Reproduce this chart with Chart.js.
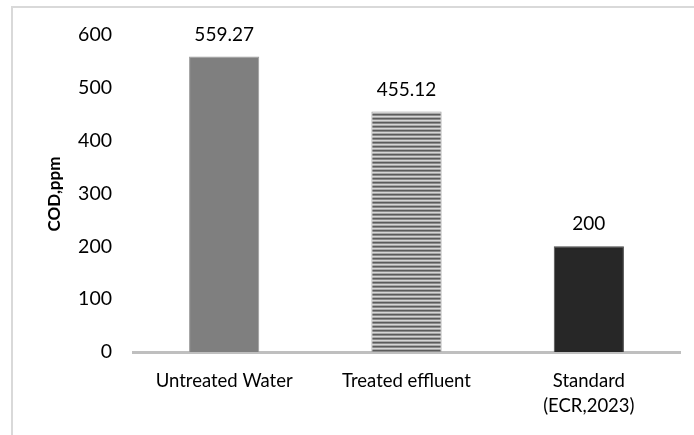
<!DOCTYPE html>
<html>
<head>
<meta charset="utf-8">
<script src="https://cdn.jsdelivr.net/npm/chart.js@4/dist/chart.umd.min.js"></script>
<style>
  html, body { margin: 0; padding: 0; background: #ffffff; }
  #wrap { width: 694px; height: 435px; position: relative; }
</style>
</head>
<body>
<div id="wrap"><canvas id="c" width="694" height="435"></canvas></div>
<script>
// COD levels for each water sample
const categories = ["Untreated Water", "Treated effluent", ["Standard", "(ECR,2023)"]];
const codValues = [559.27, 455.12, 200];
const valueLabels = ["559.27", "455.12", "200"];
const yTicks = [0, 100, 200, 300, 400, 500, 600];
const yTitle = "COD,ppm";

const FONT = "Lato, 'Liberation Sans', sans-serif";

// fill styles: plain grey, horizontal stripes, near-black
function stripePattern() {
  const p = document.createElement('canvas');
  p.width = 4; p.height = 4;
  const g = p.getContext('2d');
  const rows = ['#d6d6d6', '#a8a8a8', '#5c5c5c', '#8c8c8c'];
  rows.forEach((c, i) => { g.fillStyle = c; g.fillRect(0, i, 4, 1); });
  return g.createPattern(p, 'repeat');
}
const ctx = document.getElementById('c').getContext('2d');
const fills = ['#7f7f7f', stripePattern(), '#272727'];
const edges = ['#9a9a9a', '#9a9a9a', '#4a4a4a'];

// frame around the figure, rotated axis title and value labels
const decorations = {
  id: 'decorations',
  beforeDraw(chart) {
    const c = chart.ctx;
    c.save();
    c.strokeStyle = '#d9d9d9';
    c.lineWidth = 2;
    c.beginPath();
    c.moveTo(12, 435);
    c.lineTo(12, 7);
    c.lineTo(694, 7);
    c.stroke();
    c.restore();
  },
  afterDraw(chart) {
    const c = chart.ctx;
    c.save();
    c.fillStyle = '#000000';
    c.font = 'bold 17px ' + FONT;
    c.textAlign = 'center';
    c.textBaseline = 'middle';
    c.translate(55, 194);
    c.rotate(-Math.PI / 2);
    c.fillText(yTitle, 0, 0);
    c.restore();

    c.save();
    c.fillStyle = '#000000';
    c.font = '19px ' + FONT;
    c.textAlign = 'center';
    c.textBaseline = 'alphabetic';
    const meta = chart.getDatasetMeta(0);
    meta.data.forEach((bar, i) => {
      c.fillText(valueLabels[i], bar.x, bar.y - 16);
    });
    c.restore();
  }
};

new Chart(ctx, {
  type: 'bar',
  data: {
    labels: categories,
    datasets: [{
      data: codValues,
      backgroundColor: fills,
      borderColor: edges,
      borderWidth: 1,
      categoryPercentage: 1,
      barPercentage: 0.385
    }]
  },
  options: {
    responsive: false,
    animation: false,
    layout: { padding: { top: 35, right: 14, left: 0, bottom: 0 } },
    plugins: { legend: { display: false }, tooltip: { enabled: false } },
    scales: {
      x: {
        grid: { display: false, drawTicks: false },
        border: { display: true, color: '#bfbfbf', width: 3 },
        ticks: {
          color: '#000000',
          font: { family: FONT, size: 18.5, lineHeight: 1.35 },
          padding: 17,
          maxRotation: 0,
          autoSkip: false
        },
        afterFit(scale) { scale.height = 83; }
      },
      y: {
        min: 0,
        max: 600,
        afterBuildTicks(scale) { scale.ticks = yTicks.map(v => ({ value: v })); },
        grid: { display: false, drawTicks: false },
        border: { display: false },
        ticks: {
          color: '#000000',
          font: { family: FONT, size: 19.5 },
          padding: 21
        },
        afterFit(scale) { scale.width = 133; }
      }
    }
  },
  plugins: [decorations]
});
</script>
</body>
</html>
